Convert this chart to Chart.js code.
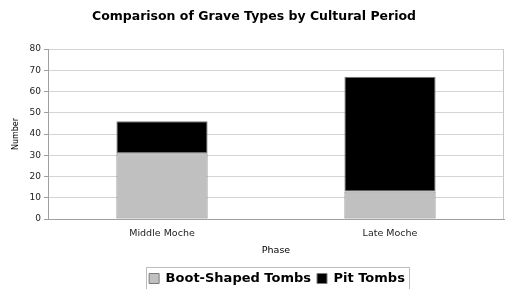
<!DOCTYPE html>
<html>
<head>
<meta charset="utf-8">
<script src="https://cdn.jsdelivr.net/npm/chart.js@4"></script>
<style>
  html, body { margin: 0; padding: 0; background: #fff; }
  #wrap { width: 506px; height: 289px; }
</style>
</head>
<body>
<div id="wrap"><canvas id="chart" width="506" height="289"></canvas></div>
<script>
// chart data
const phases = ["Middle Moche", "Late Moche"];
const bootShaped = [31, 13];
const pitTombs = [15, 54];
const yTicks = [0, 10, 20, 30, 40, 50, 60, 70, 80];

const FONT = "'DejaVu Sans', 'Liberation Sans', sans-serif";

// legend sits right of centre and low, cut off by the bottom edge
const LEGEND_DX = 23;
const LEGEND_DY = 7;

// frame bits the library doesn't draw: legend box and right edge of plot
const frame = {
  id: "frame",
  afterLayout(chart) {
    const lg = chart.legend;
    if (!lg) return;
    lg.left += LEGEND_DX;
    lg.right += LEGEND_DX;
    lg.top += LEGEND_DY;
    lg.bottom += LEGEND_DY;
  },
  afterDraw(chart) {
    const ctx = chart.ctx;
    const a = chart.chartArea;
    ctx.save();
    ctx.lineWidth = 1;
    ctx.strokeStyle = "#c8c8c8";
    ctx.beginPath();
    ctx.moveTo(Math.round(a.right) - 0.5, a.top);
    ctx.lineTo(Math.round(a.right) - 0.5, a.bottom);
    ctx.stroke();

    const boxes = chart.legend && chart.legend.legendHitBoxes;
    if (boxes && boxes.length) {
      const first = boxes[0];
      const last = boxes[boxes.length - 1];
      const x0 = Math.round(first.left) - 3;
      const x1 = Math.round(last.left + last.width) + 4;
      const y0 = Math.round(first.top) - 5;
      ctx.strokeStyle = "#bdbdbd";
      ctx.strokeRect(x0 + 0.5, y0 + 0.5, x1 - x0, 40);
    }
    ctx.restore();
  }
};

new Chart(document.getElementById("chart"), {
  type: "bar",
  data: {
    labels: phases,
    datasets: [
      {
        label: "Boot-Shaped Tombs",
        data: bootShaped,
        backgroundColor: "#c0c0c0",
        borderColor: "#7a7a7a",
        borderWidth: 1,
        borderSkipped: false,
        barPercentage: 0.4,
        categoryPercentage: 1
      },
      {
        label: "Pit Tombs",
        data: pitTombs,
        backgroundColor: "#000000",
        borderColor: "#7a7a7a",
        borderWidth: 1,
        borderSkipped: false,
        barPercentage: 0.4,
        categoryPercentage: 1
      }
    ]
  },
  options: {
    responsive: false,
    animation: false,
    devicePixelRatio: 1,
    layout: { padding: { left: 4, right: 2, top: 4, bottom: 1 } },
    plugins: {
      title: {
        display: true,
        text: "Comparison of Grave Types by Cultural Period",
        color: "#000",
        font: { family: FONT, size: 12.5, weight: "bold" },
        padding: { top: 5, bottom: 25 }
      },
      legend: {
        position: "bottom",
        labels: {
          color: "#000",
          font: { family: FONT, size: 13, weight: "bold" },
          boxWidth: 10,
          boxHeight: 10,
          padding: 6,
          generateLabels(chart) {
            return chart.data.datasets.map((ds, i) => ({
              text: ds.label,
              fillStyle: ds.backgroundColor,
              strokeStyle: "#7a7a7a",
              lineWidth: 1,
              datasetIndex: i
            }));
          }
        }
      },
      tooltip: { enabled: false }
    },
    scales: {
      x: {
        stacked: true,
        afterFit(axis) { axis.height = 40; },
        grid: { display: false, drawTicks: false },
        border: { color: "#a0a0a0" },
        ticks: { color: "#222", font: { family: FONT, size: 9.5 }, padding: 9 },
        title: {
          display: true,
          text: "Phase",
          color: "#000",
          font: { family: FONT, size: 9.5 },
          padding: { top: 0, bottom: 3 }
        }
      },
      y: {
        stacked: true,
        min: 0,
        max: 80,
        afterBuildTicks(axis) {
          axis.ticks = yTicks.map(v => ({ value: v }));
        },
        afterFit(axis) { axis.width = 44; },
        grid: { color: "#d4d4d4", tickColor: "#a0a0a0", tickLength: 4 },
        border: { color: "#a0a0a0" },
        ticks: { color: "#222", font: { family: FONT, size: 9 }, padding: 3 },
        title: {
          display: true,
          text: "Number",
          color: "#000",
          font: { family: FONT, size: 8 },
          padding: { top: 7, bottom: 0 }
        }
      }
    }
  },
  plugins: [frame]
});
</script>
</body>
</html>
